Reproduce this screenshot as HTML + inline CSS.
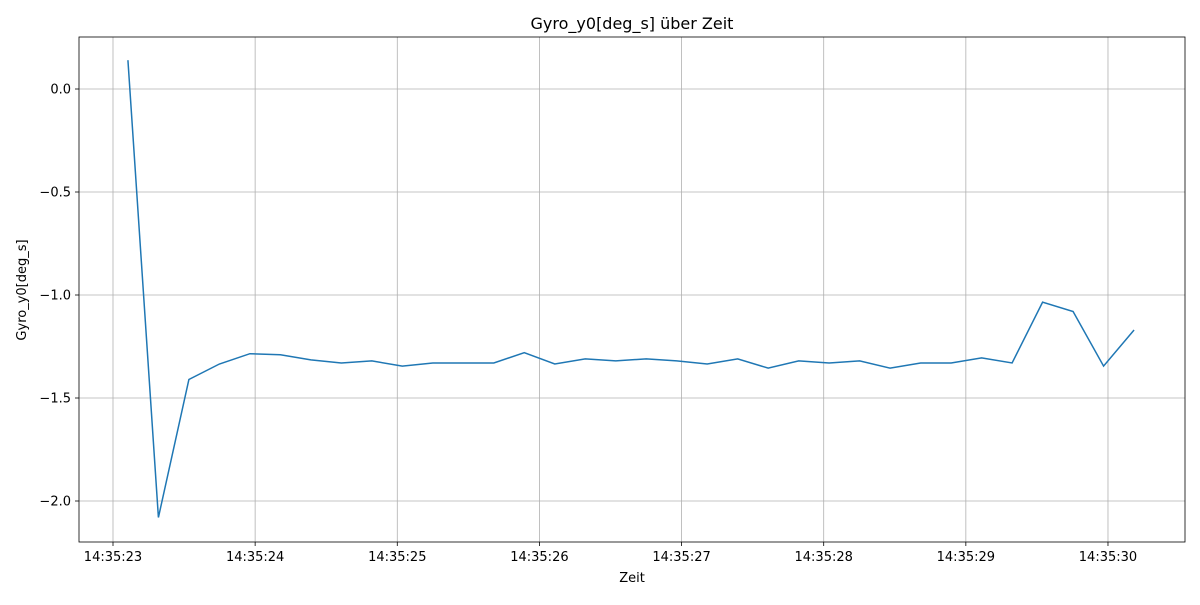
<!DOCTYPE html>
<html><head><meta charset="utf-8"><style>
body{margin:0;background:#fff;font-family:"Liberation Sans","DejaVu Sans",sans-serif}
svg text{font-family:"DejaVu Sans","Liberation Sans",sans-serif}
</style></head><body>
<svg id="chart" width="1200" height="600">
<rect width="1200" height="600" fill="#fff"/>
<g id="grid"></g>
<g id="ticks"></g>
<polyline id="line" fill="none" stroke="#1f77b4" stroke-width="1.5"/>
<rect x="79" y="37" width="1106" height="505" fill="none" stroke="#000" stroke-width="0.8"/>
<text x="632" y="29" font-size="16" text-anchor="middle">Gyro_y0[deg_s] über Zeit</text>
<text x="632" y="582" font-size="13" text-anchor="middle">Zeit</text>
<text x="26" y="290" font-size="13" text-anchor="middle" transform="rotate(-90 26 290)">Gyro_y0[deg_s]</text>
</svg>
<script>
const values=[0.14,-2.08,-1.41,-1.335,-1.285,-1.29,-1.315,-1.33,-1.32,-1.345,-1.33,-1.33,-1.33,-1.28,-1.335,-1.31,-1.32,-1.31,-1.32,-1.335,-1.31,-1.355,-1.32,-1.33,-1.32,-1.355,-1.33,-1.33,-1.305,-1.33,-1.035,-1.08,-1.345,-1.17];
const startSec=23.105;
const stepSec=0.2145;
const xTickSecs=[23,24,25,26,27,28,29,30];
const xTickLabels=["14:35:23","14:35:24","14:35:25","14:35:26","14:35:27","14:35:28","14:35:29","14:35:30"];
const yTicks=[0,-0.5,-1,-1.5,-2];
const yTickLabels=["0.0","\u22120.5","\u22121.0","\u22121.5","\u22122.0"];
const xs=s=>113+(s-23)*142.14;
const ys=v=>89-v*206;
const NS="http://www.w3.org/2000/svg";
const grid=document.getElementById('grid'),ticks=document.getElementById('ticks');
function mk(tag,attrs,parent){const e=document.createElementNS(NS,tag);for(const k in attrs)e.setAttribute(k,attrs[k]);parent.appendChild(e);return e;}
xTickSecs.forEach((s,i)=>{const x=xs(s);
 const g=mk('line',{x1:x,x2:x,y1:37,y2:542,stroke:'#b0b0b0','stroke-width':0.8},grid);
 
 
 mk('line',{x1:x,x2:x,y1:542,y2:546,stroke:'#000','stroke-width':0.8},ticks);
 const t=mk('text',{x:x,y:561,'font-size':13,'text-anchor':'middle'},ticks);t.textContent=xTickLabels[i];
 
 
});
yTicks.forEach((v,i)=>{const y=ys(v);
 const g=mk('line',{x1:79,x2:1185,y1:y,y2:y,stroke:'#b0b0b0','stroke-width':0.8},grid);
 
 
 mk('line',{x1:75,x2:79,y1:y,y2:y,stroke:'#000','stroke-width':0.8},ticks);
 const t=mk('text',{x:71,y:y+4.5,'font-size':13,'text-anchor':'end'},ticks);t.textContent=yTickLabels[i];
 
 
});
document.getElementById('line').setAttribute('points',values.map((v,i)=>xs(startSec+i*stepSec)+','+ys(v)).join(' '));
</script>
</body></html>
